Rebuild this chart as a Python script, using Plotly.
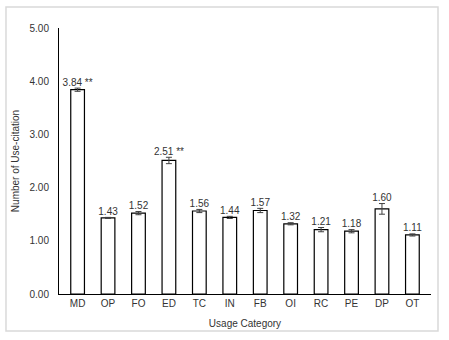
import plotly.graph_objects as go

categories = ["MD", "OP", "FO", "ED", "TC", "IN", "FB", "OI", "RC", "PE", "DP", "OT"]
values = [3.84, 1.43, 1.52, 2.51, 1.56, 1.44, 1.57, 1.32, 1.21, 1.18, 1.60, 1.11]
errors = [0.03, 0.01, 0.03, 0.06, 0.03, 0.02, 0.04, 0.02, 0.04, 0.03, 0.10, 0.02]
labels = ["3.84 **", "1.43", "1.52", "2.51 **", "1.56", "1.44", "1.57", "1.32", "1.21", "1.18", "1.60", "1.11"]
y_ticks = [0, 1, 2, 3, 4, 5]

font_family = "Liberation Sans, Arial, sans-serif"
txt = "#333333"

fig = go.Figure()
fig.add_trace(go.Bar(
    x=categories, y=values,
    marker=dict(color="white", line=dict(color="black", width=1.2)),
    width=0.45,
    error_y=dict(type="data", array=errors, color="#404040", thickness=1, width=3),
    showlegend=False,
))
fig.add_trace(go.Scatter(
    x=categories, y=[v + e for v, e in zip(values, errors)],
    mode="text", text=labels, textposition="top center",
    textfont=dict(size=10, color=txt, family=font_family),
    showlegend=False, hoverinfo="skip",
))

fig.update_layout(
    width=449, height=340,
    margin=dict(l=59, r=18, t=28, b=46),
    paper_bgcolor="white", plot_bgcolor="white",
    font=dict(family=font_family, size=10, color=txt),
    xaxis=dict(
        showline=True, linecolor="black", linewidth=1,
        showgrid=False, ticks="", tickfont=dict(size=10, color=txt),
        title=dict(text="Usage Category", font=dict(size=10, color=txt), standoff=11),
    ),
    yaxis=dict(
        range=[0, 5], tickvals=y_ticks, tickformat=".2f",
        showline=True, linecolor="black", linewidth=1,
        showgrid=False, ticks="", zeroline=False, ticklabelstandoff=7,
        tickfont=dict(size=10, color=txt),
        title=dict(text="Number of Use-citation", font=dict(size=10, color=txt), standoff=8),
    ),
    shapes=[dict(
        type="rect", xref="paper", yref="paper",
        x0=-0.1425, x1=1.0188, y0=-0.139, y1=1.079,
        line=dict(color="#d9d9d9", width=1.5), fillcolor="rgba(0,0,0,0)",
    )],
)

fig.write_html("out.html", config={"displayModeBar": False},
               post_script="document.body.style.margin='0px';")
